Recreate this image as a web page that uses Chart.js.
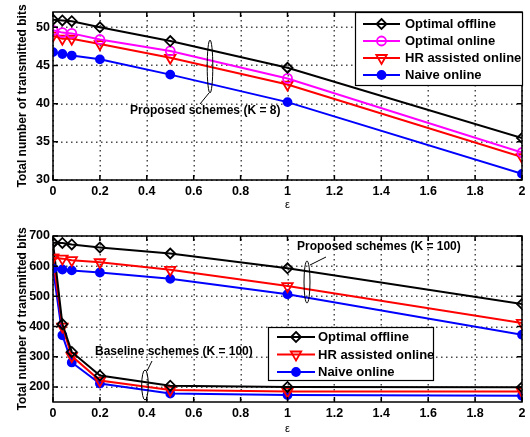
<!DOCTYPE html>
<html>
<head>
<meta charset="utf-8">
<script src="https://cdn.jsdelivr.net/npm/chart.js@4/dist/chart.umd.min.js"></script>
<style>
  body { margin: 0; background: #fff; }
  .box { position: absolute; left: 0; width: 530px; }
  #topBox { top: 0; height: 218px; }
  #bottomBox { top: 218px; height: 219px; }
</style>
</head>
<body>
<div class="box" id="topBox"><canvas id="topChart"></canvas></div>
<div class="box" id="bottomBox"><canvas id="bottomChart"></canvas></div>
<script>
// Data
const epsValues = [0, 0.04, 0.08, 0.2, 0.5, 1, 2];
const xTicks = [0, 0.2, 0.4, 0.6, 0.8, 1, 1.2, 1.4, 1.6, 1.8, 2];

// K = 8
const offlineK8 = [51.0, 50.9, 50.8, 50.0, 48.2, 44.7, 35.5];
const onlineK8 = [49.6, 49.3, 49.2, 48.4, 46.9, 43.3, 33.6];
const hrK8 = [48.9, 48.5, 48.5, 47.8, 46.0, 42.5, 33.0];
const naiveK8 = [46.75, 46.5, 46.3, 45.8, 43.8, 40.2, 30.8];
const yTicksTop = [30, 35, 40, 45, 50];

// K = 100
const offlineK100 = [678, 677, 672, 662, 642, 593, 475];
const hrK100 = [628, 625, 620, 613, 588, 534, 412];
const naiveK100 = [592, 589, 586, 579, 558, 507, 373];
const offlineBase = [678, 408, 316, 238, 204, 200, 199];
const hrBase = [628, 400, 302, 221, 190, 185, 185];
const naiveBase = [592, 371, 281, 211, 178, 173, 171];
const yTicksBottom = [200, 300, 400, 500, 600, 700];

const FONT = '"Liberation Sans", Arial, Helvetica, sans-serif';

function pts(ys) {
    return epsValues.map((x, i) => ({ x: x, y: ys[i] }));
}

const markers = {
    offline: { color: '#000000', style: 'rectRot', radius: 5, fill: 'rgba(0,0,0,0)', rotation: 0 },
    online: { color: '#ff00ff', style: 'circle', radius: 4.5, fill: 'rgba(0,0,0,0)', rotation: 0 },
    hr: { color: '#ff0000', style: 'triangle', radius: 6, fill: 'rgba(0,0,0,0)', rotation: 180 },
    naive: { color: '#0000ff', style: 'circle', radius: 4, fill: '#0000ff', rotation: 0 }
};

function makeSet(label, ys, kind, inLegend) {
    const m = markers[kind];
    return {
        label: label,
        data: pts(ys),
        kind: kind,
        inLegend: inLegend,
        borderColor: m.color,
        backgroundColor: m.fill,
        borderWidth: 2,
        pointStyle: m.style,
        pointRadius: m.radius,
        pointRotation: m.rotation,
        pointBorderWidth: 1.8,
        pointBorderColor: m.color,
        pointBackgroundColor: m.fill,
        tension: 0,
        fill: false
    };
}

// draw a marker for the legend
function drawMarker(ctx, kind, x, y) {
    const m = markers[kind];
    ctx.save();
    ctx.strokeStyle = m.color;
    ctx.fillStyle = m.fill;
    ctx.lineWidth = 1.8;
    ctx.beginPath();
    if (m.style === 'rectRot') {
        ctx.moveTo(x, y - m.radius);
        ctx.lineTo(x + m.radius, y);
        ctx.lineTo(x, y + m.radius);
        ctx.lineTo(x - m.radius, y);
        ctx.closePath();
    } else if (m.style === 'triangle') {
        const r = m.radius;
        ctx.moveTo(x, y + r);
        ctx.lineTo(x + r * Math.sin(Math.PI / 3), y - r / 2);
        ctx.lineTo(x - r * Math.sin(Math.PI / 3), y - r / 2);
        ctx.closePath();
    } else {
        ctx.arc(x, y, m.radius, 0, Math.PI * 2);
        ctx.closePath();
    }
    ctx.fill();
    ctx.stroke();
    ctx.restore();
}

// frame, dotted grid, inner ticks, legend and annotations (MATLAB look)
const matlabPlugin = {
    id: 'matlab',
    beforeDatasetsDraw(chart, args, opts) {
        const ctx = chart.ctx;
        const a = chart.chartArea;
        const xs = chart.scales.x, ys = chart.scales.y;
        ctx.save();
        ctx.fillStyle = '#4a4a4a';
        xTicks.forEach(v => {
            const px = Math.round(xs.getPixelForValue(v)) - 0.5;
            for (let y = a.top + 3; y < a.bottom - 1; y += 5) ctx.fillRect(px, y, 1.5, 1.5);
        });
        opts.yTicks.forEach(v => {
            const py = Math.round(ys.getPixelForValue(v)) - 0.5;
            for (let x = a.left + 3; x < a.right - 1; x += 5) ctx.fillRect(x, py, 1.5, 1.5);
        });
        ctx.restore();
    },
    afterDraw(chart, args, opts) {
        const ctx = chart.ctx;
        const a = chart.chartArea;
        const xs = chart.scales.x, ys = chart.scales.y;
        ctx.save();
        ctx.strokeStyle = '#000';
        ctx.lineWidth = 1.5;
        ctx.strokeRect(a.left, a.top, a.right - a.left, a.bottom - a.top);
        ctx.beginPath();
        xTicks.forEach(v => {
            const px = xs.getPixelForValue(v);
            ctx.moveTo(px, a.bottom); ctx.lineTo(px, a.bottom - 5);
            ctx.moveTo(px, a.top); ctx.lineTo(px, a.top + 5);
        });
        opts.yTicks.forEach(v => {
            const py = ys.getPixelForValue(v);
            ctx.moveTo(a.left, py); ctx.lineTo(a.left + 5, py);
            ctx.moveTo(a.right, py); ctx.lineTo(a.right - 5, py);
        });
        ctx.stroke();

        // annotations
        ctx.lineWidth = 1;
        ctx.font = 'bold 12px ' + FONT;
        ctx.fillStyle = '#000';
        ctx.textBaseline = 'middle';
        ctx.textAlign = 'left';
        (opts.notes || []).forEach(n => {
            ctx.fillText(n.text, n.tx, n.ty);
            ctx.beginPath();
            ctx.ellipse(n.ex, n.ey, n.rx, n.ry, 0, 0, Math.PI * 2);
            ctx.stroke();
            ctx.beginPath();
            ctx.moveTo(n.l[0], n.l[1]);
            ctx.lineTo(n.l[2], n.l[3]);
            ctx.stroke();
        });

        // legend
        const lg = opts.legend;
        const items = chart.data.datasets.filter(d => d.inLegend);
        ctx.fillStyle = '#fff';
        ctx.fillRect(lg.x, lg.y, lg.w, lg.h);
        ctx.strokeStyle = '#000';
        ctx.lineWidth = 1.2;
        ctx.strokeRect(lg.x + 0.5, lg.y + 0.5, lg.w, lg.h);
        items.forEach((d, i) => {
            const yy = lg.y + lg.first + i * lg.step;
            ctx.strokeStyle = d.borderColor;
            ctx.lineWidth = 2;
            ctx.beginPath();
            ctx.moveTo(lg.x + lg.l0, yy);
            ctx.lineTo(lg.x + lg.l1, yy);
            ctx.stroke();
            drawMarker(ctx, d.kind, lg.x + (lg.l0 + lg.l1) / 2, yy);
            ctx.fillStyle = '#000';
            ctx.font = 'bold 13px ' + FONT;
            ctx.fillText(d.label, lg.x + lg.tx, yy + 0.5);
        });
        ctx.restore();
    }
};

function baseOptions(yMin, yMax, yTicks, xAxisHeight, titlePadBottom, legend, notes, padTop) {
    return {
        responsive: true,
        maintainAspectRatio: false,
        animation: false,
        layout: { padding: { top: padTop, right: 8, left: 0, bottom: 0 } },
        plugins: {
            legend: { display: false },
            tooltip: { enabled: false },
            matlab: { legend: legend, notes: notes, yTicks: yTicks }
        },
        scales: {
            x: {
                type: 'linear',
                min: 0, max: 2,
                afterBuildTicks: s => { s.ticks = xTicks.map(v => ({ value: v })); },
                afterFit: s => { s.height = xAxisHeight; },
                ticks: {
                    color: '#000',
                    padding: 4,
                    maxRotation: 0,
                    autoSkip: false,
                    font: { family: FONT, size: 12.5, weight: 'bold' },
                    callback: v => String(+v.toFixed(1))
                },
                grid: { display: false, drawTicks: false },
                border: { display: false },
                title: {
                    display: true, text: 'ε', color: '#000',
                    font: { family: FONT, size: 11 },
                    padding: { top: 0, bottom: titlePadBottom }
                }
            },
            y: {
                type: 'linear',
                min: yMin, max: yMax,
                afterBuildTicks: s => { s.ticks = yTicks.map(v => ({ value: v })); },
                afterFit: s => { s.width = 53; },
                ticks: {
                    color: '#000',
                    padding: 3,
                    font: { family: FONT, size: 12.5, weight: 'bold' }
                },
                grid: { display: false, drawTicks: false },
                border: { display: false },
                title: {
                    display: true, text: 'Total number of transmitted bits', color: '#000',
                    font: { family: FONT, size: 12, weight: 'bold' },
                    padding: { top: 15, bottom: 0 }
                }
            }
        }
    };
}

// top chart (K = 8)
new Chart(document.getElementById('topChart').getContext('2d'), {
    type: 'line',
    data: {
        datasets: [
            makeSet('Optimal offline', offlineK8, 'offline', true),
            makeSet('Optimal online', onlineK8, 'online', true),
            makeSet('HR assisted online', hrK8, 'hr', true),
            makeSet('Naive online', naiveK8, 'naive', true)
        ]
    },
    options: baseOptions(30, 52, yTicksTop, 38, 6,
        { x: 355, y: 12, w: 167, h: 73, first: 12, step: 17, l0: 8, l1: 45, tx: 50 },
        [{ text: 'Proposed schemes (K = 8)', tx: 130, ty: 111, ex: 210, ey: 66.5, rx: 2.8, ry: 26.5, l: [209, 93, 200, 104] }],
        12),
    plugins: [matlabPlugin]
});

// bottom chart (K = 100)
const off = 218;
new Chart(document.getElementById('bottomChart').getContext('2d'), {
    type: 'line',
    data: {
        datasets: [
            makeSet('Optimal offline', offlineK100, 'offline', true),
            makeSet('HR assisted online', hrK100, 'hr', true),
            makeSet('Naive online', naiveK100, 'naive', true),
            makeSet('Optimal offline (baseline)', offlineBase, 'offline', false),
            makeSet('HR assisted online (baseline)', hrBase, 'hr', false),
            makeSet('Naive online (baseline)', naiveBase, 'naive', false)
        ]
    },
    options: baseOptions(150, 700, yTicksBottom, 35, 1,
        { x: 268, y: 327 - off, w: 165, h: 53, first: 10, step: 17.5, l0: 9, l1: 47, tx: 50 },
        [
            { text: 'Proposed schemes (K = 100)', tx: 297, ty: 247 - off, ex: 307, ey: 282 - off, rx: 3, ry: 21, l: [310, 265 - off, 326, 257 - off] },
            { text: 'Baseline schemes (K = 100)', tx: 95, ty: 352 - off, ex: 145, ey: 385 - off, rx: 3.3, ry: 15, l: [147, 371 - off, 152, 361 - off] }
        ],
        18),
    plugins: [matlabPlugin]
});
</script>
</body>
</html>
